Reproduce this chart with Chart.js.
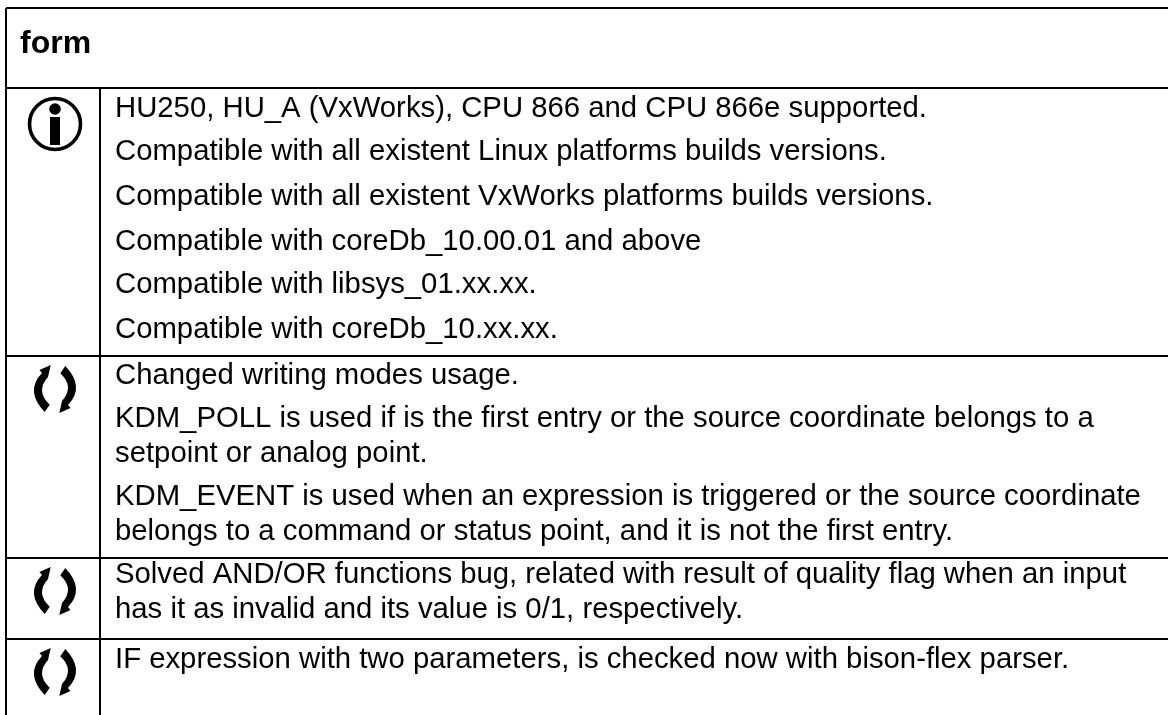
<!DOCTYPE html>
<html>
<head>
    <title>form</title>
    <script src="https://cdn.jsdelivr.net/npm/chart.js"></script>
    <style>
        html, body { margin: 0; padding: 0; background: #fff; overflow: hidden; }
        #wrap { width: 1168px; height: 715px; }
    </style>
</head>
<body>
<div id="wrap"><canvas id="tableChart" width="1168" height="715"></canvas></div>
<script>
    // Table content
    const headerText = 'form';
    const noteLines = [
        'HU250, HU_A (VxWorks), CPU 866 and CPU 866e supported.',
        'Compatible with all existent Linux platforms builds versions.',
        'Compatible with all existent VxWorks platforms builds versions.',
        'Compatible with coreDb_10.00.01 and above',
        'Compatible with libsys_01.xx.xx.',
        'Compatible with coreDb_10.xx.xx.'
    ];
    const changeLines1 = [
        'Changed writing modes usage.',
        'KDM_POLL is used if is the first entry or the source coordinate belongs to a',
        'setpoint or analog point.',
        'KDM_EVENT is used when an expression is triggered or the source coordinate',
        'belongs to a command or status point, and it is not the first entry.'
    ];
    const changeLines2 = [
        'Solved AND/OR functions bug, related with result of quality flag when an input',
        'has it as invalid and its value is 0/1, respectively.'
    ];
    const changeLines3 = [
        'IF expression with two parameters, is checked now with bison-flex parser.'
    ];

    // Baselines, same order as the lines above
    const noteBaselines = [117, 160, 205, 250, 293, 338];
    const changeBaselines1 = [384, 427, 462, 505, 540];
    const changeBaselines2 = [583, 618];
    const changeBaselines3 = [668];

    // Table rules
    const ruleRows = [8, 88, 356, 558, 639];
    const ruleColumns = [6, 100];
    const iconRows = [124, 389, 591, 672];

    const textColor = '#000';
    const bodyFont = '29.3px "Liberation Sans", Arial, sans-serif';
    const headFont = 'bold 32px "Liberation Sans", Arial, sans-serif';

    function ruleDatasets() {
        const sets = [];
        ruleRows.forEach(y => {
            sets.push({ data: [{ x: ruleColumns[0], y: y }, { x: 1168, y: y }] });
        });
        sets.push({ data: [{ x: ruleColumns[0], y: 8 }, { x: ruleColumns[0], y: 715 }] });
        sets.push({ data: [{ x: ruleColumns[1], y: 88 }, { x: ruleColumns[1], y: 715 }] });
        return sets.map(s => Object.assign(s, {
            showLine: true, borderColor: textColor, borderWidth: 2, pointRadius: 0, fill: false
        }));
    }

    function drawInfoIcon(ctx, cx, cy) {
        ctx.save();
        ctx.strokeStyle = textColor;
        ctx.fillStyle = textColor;
        ctx.lineWidth = 3.6;
        ctx.beginPath();
        ctx.arc(cx, cy, 25.5, 0, Math.PI * 2);
        ctx.stroke();
        ctx.beginPath();
        ctx.arc(cx, cy - 15, 5.8, 0, Math.PI * 2);
        ctx.fill();
        ctx.fillRect(cx - 5, cy - 7, 10, 28);
        ctx.restore();
    }

    function changeArrow(ctx, cx, cy) {
        ctx.beginPath();
        ctx.moveTo(cx - 4.3, cy - 24);
        ctx.lineTo(cx - 15.5, cy - 19);
        ctx.lineTo(cx - 13, cy - 16);
        ctx.quadraticCurveTo(cx - 30.4, cy + 2, cx - 10.3, cy + 23);
        ctx.lineTo(cx - 5.3, cy + 15.7);
        ctx.quadraticCurveTo(cx - 19.8, cy + 2, cx - 7, cy - 12);
        ctx.closePath();
        ctx.fill();
    }

    // Two curved arrows, the "changed" mark
    function drawChangeIcon(ctx, cx, cy) {
        ctx.save();
        ctx.fillStyle = textColor;
        changeArrow(ctx, cx, cy);
        // right part is the left part turned by half a circle
        ctx.translate(cx, cy);
        ctx.rotate(Math.PI);
        ctx.translate(-cx, -cy);
        changeArrow(ctx, cx, cy);
        ctx.restore();
    }

    const tableContent = {
        id: 'tableContent',
        afterDatasetsDraw(chart) {
            const ctx = chart.ctx;
            const xs = chart.scales.x;
            const ys = chart.scales.y;
            ctx.save();
            ctx.fillStyle = textColor;
            ctx.textBaseline = 'alphabetic';
            ctx.font = headFont;
            ctx.fillText(headerText, xs.getPixelForValue(20), ys.getPixelForValue(53));
            ctx.font = bodyFont;
            const put = (lines, baselines) => lines.forEach((line, i) => {
                ctx.fillText(line, xs.getPixelForValue(115), ys.getPixelForValue(baselines[i]));
            });
            put(noteLines, noteBaselines);
            put(changeLines1, changeBaselines1);
            put(changeLines2, changeBaselines2);
            put(changeLines3, changeBaselines3);
            ctx.restore();
            drawInfoIcon(ctx, xs.getPixelForValue(55), ys.getPixelForValue(iconRows[0]));
            iconRows.slice(1).forEach(y => {
                drawChangeIcon(ctx, xs.getPixelForValue(55), ys.getPixelForValue(y));
            });
        }
    };

    new Chart(document.getElementById('tableChart').getContext('2d'), {
        type: 'scatter',
        data: { datasets: ruleDatasets() },
        options: {
            responsive: false,
            animation: false,
            layout: { padding: 0 },
            plugins: { legend: { display: false }, tooltip: { enabled: false } },
            scales: {
                x: { type: 'linear', display: false, min: 0, max: 1168 },
                y: { type: 'linear', display: false, min: 0, max: 715, reverse: true }
            }
        },
        plugins: [tableContent]
    });
</script>
</body>
</html>
